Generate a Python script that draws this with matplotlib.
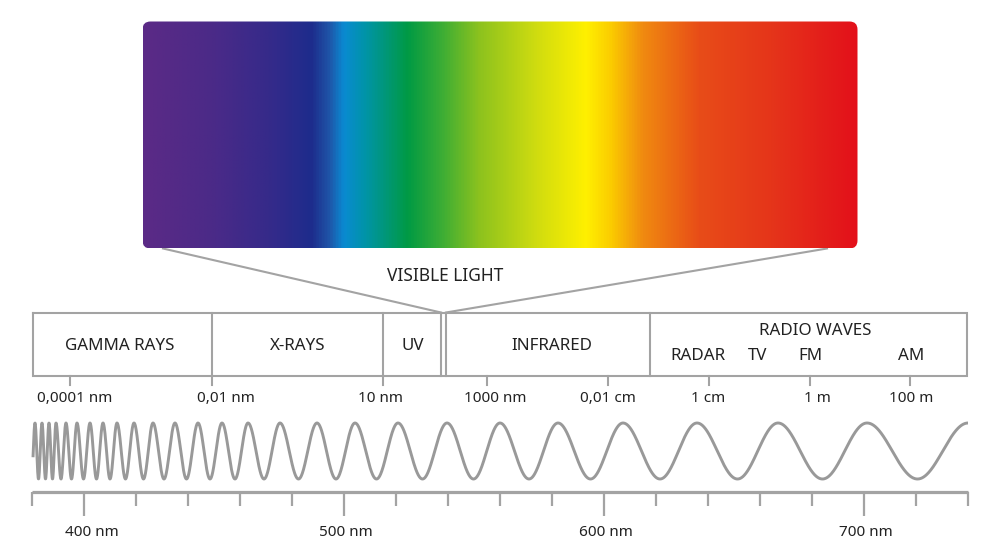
import numpy as np
import matplotlib
matplotlib.use('Agg')
import matplotlib.pyplot as plt
from matplotlib.colors import LinearSegmentedColormap
from matplotlib.patches import FancyBboxPatch

plt.rcParams['font.family'] = ['Noto Sans', 'DejaVu Sans']

#Spectrum bands (name, left edge, right edge in picture units)
band_names = ['GAMMA RAYS', 'X-RAYS', 'UV', 'INFRARED', 'RADIO WAVES']
band_edges = [33, 212, 383, 441, 446, 650, 967]
band_label_x = [120, 298, 413, 552, 815]
radio_sub = ['RADAR', 'TV', 'FM', 'AM']
radio_sub_x = [698, 758, 810, 911]

#Wavelength ticks under the band box
wl_labels = ['0,0001 nm', '0,01 nm', '10 nm', '1000 nm', '0,01 cm', '1 cm', '1 m', '100 m']
wl_tick_x = [70, 212, 383, 487, 608, 709, 810, 910]
wl_label_x = [75, 226, 380, 495, 608, 708, 817, 911]

#Visible ruler (nm)
ruler_minor = list(range(380, 741, 20))
ruler_major = [400, 500, 600, 700]

#Wave crest positions
wave_peaks = [35, 42, 49, 56, 66, 77, 90, 103, 117, 134, 153, 175, 198, 222, 248,
              280, 317, 355, 398, 447, 500, 558, 623, 697, 778, 867, 968]

#Gradient stops
grad_pos = [0.0, 0.10, 0.18, 0.235, 0.26, 0.28, 0.31, 0.37, 0.42, 0.47, 0.55,
            0.62, 0.655, 0.70, 0.78, 0.88, 1.0]
grad_col = ['#5b2a86', '#4a2a88', '#342a8a', '#1d2c8c', '#1f55a8', '#0a8ad2', '#0094a8',
            '#009a44', '#3fae34', '#8cc21e', '#cfdc10', '#fff000', '#fbcc00', '#f08a10',
            '#e84c18', '#e5351a', '#e3101a']

GRAY = '#a3a3a3'
TXT = '#222222'

fig = plt.figure(figsize=(10, 5.47), dpi=100)
ax = fig.add_axes([0, 0, 1, 1])
ax.set_xlim(0, 1000)
ax.set_ylim(547, 0)
ax.axis('off')

#Rainbow panel
cmap = LinearSegmentedColormap.from_list('vis', list(zip(grad_pos, grad_col)))
im = ax.imshow(np.linspace(0, 1, 512)[None, :], cmap=cmap, aspect='auto',
               extent=(142.5, 857.5, 248.5, 21.5), interpolation='bilinear', zorder=1)
clip = FancyBboxPatch((142.5, 21.5), 715, 227, boxstyle='round,pad=0,rounding_size=8',
                      transform=ax.transData, facecolor='none', edgecolor='none')
ax.add_patch(clip)
im.set_clip_path(clip)

#Funnel lines
ax.plot([163, 441], [248.5, 312.5], color=GRAY, lw=1.5, zorder=0)
ax.plot([827, 446], [248.5, 312.5], color=GRAY, lw=1.5, zorder=0)
ax.text(445, 276, 'VISIBLE LIGHT', ha='center', va='center', fontsize=12.5, color=TXT)

#Band box
top, bot = 312.5, 376
ax.plot([band_edges[0], band_edges[-1], band_edges[-1], band_edges[0], band_edges[0]],
        [top, top, bot, bot, top], color=GRAY, lw=1.5, solid_joinstyle='miter')
for x in band_edges[1:-1]:
    ax.plot([x, x], [top, bot], color=GRAY, lw=1.5)
for name, x in zip(band_names, band_label_x):
    y = 331 if name == 'RADIO WAVES' else 346
    ax.text(x, y, name, ha='center', va='center', fontsize=12.2, color=TXT)
for name, x in zip(radio_sub, radio_sub_x):
    ax.text(x, 356, name, ha='center', va='center', fontsize=12.2, color=TXT)

#Wavelength ticks
for x, lab, lx in zip(wl_tick_x, wl_labels, wl_label_x):
    ax.plot([x, x], [bot, 385], color=GRAY, lw=1.5)
    ax.text(lx, 398, lab, ha='center', va='center', fontsize=11, color=TXT)

#Chirped wave
xs = np.linspace(33, 968, 4000)
phase = np.interp(xs, wave_peaks, 2 * np.pi * np.arange(len(wave_peaks)))
slope0 = 2 * np.pi / (wave_peaks[1] - wave_peaks[0])
phase = np.where(xs < wave_peaks[0], (xs - wave_peaks[0]) * slope0, phase)
ax.plot(xs, 451 - 28 * np.cos(phase), color='#999999', lw=2.1, solid_capstyle='butt')

#Ruler for visible range, 20 nm per 52 px
def rx(nm):
    return 32 + (np.asarray(nm) - 380) * 2.6

ax.plot([rx(ruler_minor[0]), rx(ruler_minor[-1])], [492, 492], color=GRAY, lw=2.3,
        solid_capstyle='butt')
for nm in ruler_minor:
    end = 516 if nm in ruler_major else 506
    ax.plot([rx(nm), rx(nm)], [492, end], color=GRAY, lw=1.6, solid_capstyle='butt')
for nm in ruler_major:
    ax.text(rx(nm) + (8 if nm == 400 else 2), 532, f'{nm} nm', ha='center', va='center',
            fontsize=11, color=TXT)

fig.savefig('out.png', dpi=100)
